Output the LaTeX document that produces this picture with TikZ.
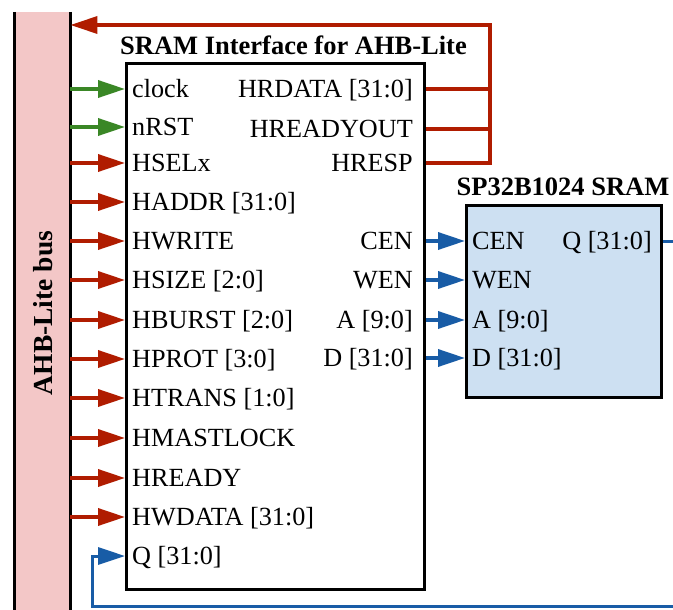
\documentclass[tikz,border=0pt]{standalone}
\usepackage{fontspec}
\setmainfont{Liberation Serif}
\usetikzlibrary{arrows.meta}
\definecolor{cred}{RGB}{176,28,0}
\definecolor{cgreen}{RGB}{58,135,38}
\definecolor{cblue}{RGB}{24,92,166}
\definecolor{cpink}{RGB}{243,199,199}
\definecolor{clblue}{RGB}{205,224,242}
\begin{document}
\begin{tikzpicture}[x=1pt,y=-1pt,
  lab/.style={inner sep=0pt, text height=17pt, text depth=0pt, font=\fontsize{26.2}{30}\selectfont},
  ttl/.style={inner sep=0pt, font=\fontsize{26.5}{30}\selectfont\bfseries},
  wire/.style={line width=3.5pt},
  arr/.style={wire, -{Triangle[length=27pt,width=17pt]}},
  boxst/.style={draw=black, line width=3pt, inner sep=0pt}]
\useasboundingbox (0,0) rectangle (673,610);
\clip (0,0) rectangle (673,610);
% bus
\node[fill=cpink, inner sep=0pt, minimum width=56pt, minimum height=610pt, anchor=north west] (bus) at (14,12) {};
\draw[line width=3pt] (bus.north west) -- (bus.south west);
\draw[line width=3pt] (bus.north east) -- (bus.south east);
\node[ttl, font=\fontsize{27.5}{30}\selectfont\bfseries, rotate=90] (buslab) at (43,313) {AHB-Lite bus};
% interface box
\node[boxst, fill=white, minimum width=298pt, minimum height=526pt, anchor=north west] (ifc) at (125,62) {};
\node[ttl] (ifct) at (293.5,45) {SRAM Interface for AHB-Lite};
% SRAM box
\node[boxst, fill=clblue, minimum width=195pt, minimum height=192pt, anchor=north west] (sram) at (465,204) {};
\node[ttl] (sramt) at (563,187) {SP32B1024 SRAM};
% left inputs
\foreach \n/\t/\y/\c in {clk/clock/89/cgreen, rst/nRST/127/cgreen, sel/HSELx/163/cred,
   addr/{HADDR [31:0]}/202/cred, wr/HWRITE/241/cred, size/{HSIZE [2:0]}/280/cred,
   burst/{HBURST [2:0]}/320/cred, prot/{HPROT [3:0]}/359/cred, trans/{HTRANS [1:0]}/398/cred,
   lock/HMASTLOCK/438/cred, rdy/HREADY/478/cred, wdata/{HWDATA [31:0]}/517/cred}{
  \node[lab, anchor=west] (l\n) at (132,\y) {\t};
  \draw[arr, \c] (bus.east |- l\n) -- (ifc.west |- l\n);
}
\node[lab, anchor=west] (lq) at (132,556) {Q [31:0]};
% right outputs of interface
\node[lab, anchor=east] (ordata) at (413,89) {HRDATA [31:0]};
\node[lab, anchor=east] (ordy) at (413,129) {HREADYOUT};
\node[lab, anchor=east] (oresp) at (413,163) {HRESP};
\node[lab, anchor=east] (ocen) at (413,241) {CEN};
\node[lab, anchor=east] (owen) at (413,280) {WEN};
\node[lab, anchor=east] (oa) at (413,320) {A [9:0]};
\node[lab, anchor=east] (od) at (413,358) {D [31:0]};
% SRAM pins
\node[lab, anchor=west] (scen) at (472,241) {CEN};
\node[lab, anchor=west] (swen) at (472,280) {WEN};
\node[lab, anchor=west] (sa) at (472,320) {A [9:0]};
\node[lab, anchor=west] (sd) at (472,358) {D [31:0]};
\node[lab, anchor=east] (sq) at (652,241) {Q [31:0]};
% red return
\coordinate (jtop) at (490,25);
\draw[wire, cred] (ifc.east |- ordata) -- (jtop |- ordata);
\draw[wire, cred] (ifc.east |- ordy) -- (jtop |- ordy);
\draw[arr, cred] (ifc.east |- oresp) -| (jtop) -- (bus.east |- jtop);
% blue
\foreach \a/\b in {ocen/scen, owen/swen, oa/sa, od/sd}{
  \draw[arr, cblue] (ifc.east |- \a) -- (sram.west |- \b);
}
\coordinate (qo) at (700,241);
\coordinate (qb) at (92,606);
\draw[arr, cblue, line width=3pt] (sram.east |- sq) -- (qo) |- (qb) |- (ifc.west |- lq);
\end{tikzpicture}
\end{document}
